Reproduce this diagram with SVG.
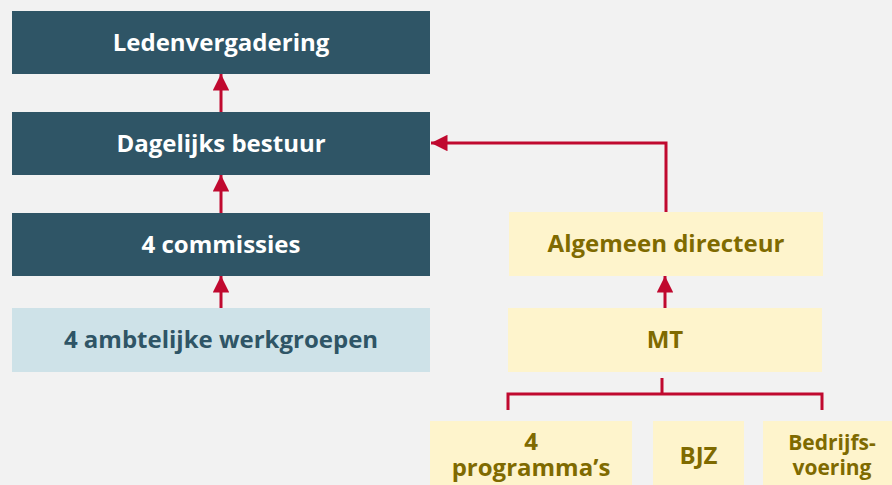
<svg xmlns="http://www.w3.org/2000/svg" width="892" height="485" viewBox="0 0 892 485">
<defs>
<style>
.dark{fill:#2F5566}
.light{fill:#CEE2E8}
.yel{fill:#FEF4CC}
text{font-family:"Open Sans","Noto Sans","Liberation Sans",sans-serif;font-weight:700;font-size:24px;text-anchor:middle}
.tw{fill:#FFFFFF}
.tt{fill:#2F5566}
.ty{fill:#7F6A00}
.sm{font-size:21px}
.ln{stroke:#C0092F;stroke-width:3;fill:none}
</style>
<marker id="ah" viewBox="0 0 10 10" refX="10" refY="5" markerWidth="5.5" markerHeight="5.5" markerUnits="strokeWidth" orient="auto">
<path d="M0,0 L10,5 L0,10 Z" fill="#C0092F"/>
</marker>
</defs>
<rect width="892" height="485" fill="#F2F2F2"/>
<g id="ledenvergadering"><rect class="dark" x="12" y="11" width="418" height="63"/><text class="tw" x="221" y="51">Ledenvergadering</text></g>
<g id="dagelijks-bestuur"><rect class="dark" x="12" y="112" width="418" height="63"/><text class="tw" x="221" y="152">Dagelijks bestuur</text></g>
<g id="commissies"><rect class="dark" x="12" y="213" width="418" height="63"/><text class="tw" x="221" y="253">4 commissies</text></g>
<g id="werkgroepen"><rect class="light" x="12" y="308" width="418" height="64"/><text class="tt" x="221" y="348">4 ambtelijke werkgroepen</text></g>
<g id="algemeen-directeur"><rect class="yel" x="509" y="212" width="314" height="64"/><text class="ty" x="666" y="252">Algemeen directeur</text></g>
<g id="mt"><rect class="yel" x="508" y="308" width="314" height="64"/><text class="ty" x="665" y="348">MT</text></g>
<g id="programmas"><rect class="yel" x="430" y="421" width="202" height="70"/><text class="ty" x="531" y="450">4</text><text class="ty" x="531" y="476">programma’s</text></g>
<g id="bjz"><rect class="yel" x="653" y="421" width="91" height="70"/><text class="ty" x="698.5" y="464">BJZ</text></g>
<g id="bedrijfsvoering"><rect class="yel" x="763" y="421" width="140" height="70"/><text class="ty sm" x="832" y="450">Bedrijfs-</text><text class="ty sm" x="832" y="475">voering</text></g>
<g id="connectors">
<line class="ln" x1="221" y1="112" x2="221" y2="74" marker-end="url(#ah)"/>
<line class="ln" x1="221" y1="213" x2="221" y2="175" marker-end="url(#ah)"/>
<line class="ln" x1="221" y1="308" x2="221" y2="276" marker-end="url(#ah)"/>
<polyline class="ln" points="666,212 666,143 431,143" marker-end="url(#ah)"/>
<line class="ln" x1="665" y1="308" x2="665" y2="276" marker-end="url(#ah)"/>
<line class="ln" x1="662" y1="378" x2="662" y2="394"/>
<polyline class="ln" stroke-width="2" points="508,410 508,394 822,394 822,410"/>
</g>
</svg>
